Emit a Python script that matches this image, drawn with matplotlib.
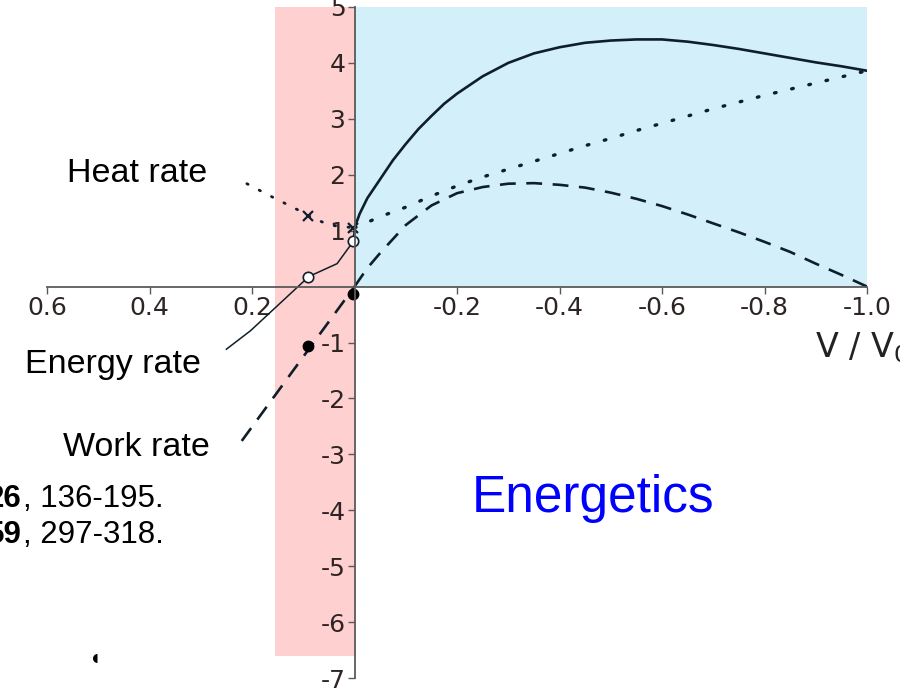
import matplotlib
matplotlib.use("Agg")
import matplotlib.pyplot as plt
import numpy as np

# values (V / V0 on x, rate on y)
v_energy = [0, -0.01, -0.025, -0.05, -0.075, -0.1, -0.125, -0.15, -0.175, -0.2, -0.25, -0.3,
            -0.35, -0.4, -0.45, -0.5, -0.55, -0.6, -0.65, -0.7, -0.75, -0.8, -0.85, -0.9,
            -0.95, -1.0]
energy_right = [1.05, 1.3, 1.58, 1.92, 2.26, 2.55, 2.82, 3.05, 3.27, 3.45, 3.76, 4.0,
                4.17, 4.28, 4.36, 4.40, 4.42, 4.42, 4.38, 4.32, 4.25, 4.17, 4.09, 4.01,
                3.94, 3.86]

v_right = [0, -0.025, -0.05, -0.1, -0.15, -0.2, -0.25, -0.3, -0.35, -0.4, -0.45, -0.5,
           -0.55, -0.6, -0.65, -0.7, -0.75, -0.8, -0.85, -0.9, -0.95, -1.0]
heat_right = [1.05, 1.15, 1.25, 1.42, 1.62, 1.8, 1.96, 2.1, 2.24, 2.38, 2.52, 2.65,
              2.79, 2.92, 3.05, 3.18, 3.30, 3.42, 3.53, 3.64, 3.75, 3.86]
work_right = [0, 0.33, 0.6, 1.1, 1.45, 1.67, 1.78, 1.84, 1.85, 1.82, 1.77, 1.68,
              1.57, 1.44, 1.29, 1.13, 0.97, 0.8, 0.62, 0.41, 0.21, 0]

v_heat_left = [0.21, 0.16, 0.11, 0.09, 0.05, 0.0]
heat_left = [1.84, 1.6, 1.37, 1.27, 1.1, 1.05]
v_energy_left = [0.25, 0.203, 0.089, 0.034, 0.003, 0.0]
energy_left = [-1.12, -0.79, 0.18, 0.41, 0.8, 1.05]
v_work_left = [0.22, 0.0]
work_left = [-2.76, 0.0]

v_pts = [0.09, 0.003]
heat_pts = [1.27, 1.05]
energy_pts = [0.18, 0.82]
work_pts = [-1.07, -0.14]

xticks = [0.6, 0.4, 0.2, -0.2, -0.4, -0.6, -0.8, -1.0]
xticklabels = ["0.6", "0.4", "0.2", "-0.2", "-0.4", "-0.6", "-0.8", "-1.0"]
yticks = [5, 4, 3, 2, 1, -1, -2, -3, -4, -5, -6, -7]

W, H = 900, 693
fig = plt.figure(figsize=(9, 6.93), dpi=100)
ax = fig.add_axes([47 / W, 15 / H, 820 / W, 671 / H])
ax.set_xlim(0.6, -1.0)
ax.set_ylim(-7, 5)
ax.patch.set_alpha(0)

# shaded regions
ax.fill_between([0, 0.156], -6.6, 5, color="#ffd0d0", lw=0, zorder=0)
ax.fill_between([0, -1.0], 0, 5, color="#d3eff9", lw=0, zorder=0)

lc = "#0f1f2a"
ax.plot(v_energy, energy_right, color=lc, lw=1.9, zorder=3)
ax.plot(v_right, heat_right, color=lc, lw=2.4, dashes=(0.5, 4.8),
        dash_capstyle="round", zorder=3)
ax.plot(v_right, work_right, color=lc, lw=1.9, dashes=(6, 4), zorder=3)

ax.plot(v_heat_left, heat_left, color=lc, lw=2.0, dashes=(0.5, 4.5),
        dash_capstyle="round", zorder=3)
ax.plot(v_energy_left, energy_left, color=lc, lw=1.1, zorder=3)
ax.plot(v_work_left, work_left, color=lc, lw=1.9, dashes=(6, 4), zorder=3)

ax.plot(v_pts, heat_pts, "x", color=lc, ms=7, mew=1.6, zorder=4)
ax.plot(v_pts, energy_pts, "o", mfc="white", mec=lc, ms=7.5, mew=1.2, zorder=4)
ax.plot(v_pts, work_pts, "o", color="black", ms=7.5, zorder=4)
ax.plot([0.503], [-6.64], "o", color="black", ms=6.5, fillstyle="left", mew=0)

# axes through the origin
for s in ["top", "right"]:
    ax.spines[s].set_visible(False)
ax.spines["left"].set_position(("data", 0))
ax.spines["bottom"].set_position(("data", 0))
for s in ["left", "bottom"]:
    ax.spines[s].set_color("#5a5a5a")
    ax.spines[s].set_linewidth(1.3)
    ax.spines[s].set_zorder(5)

ax.set_xticks(xticks)
ax.set_xticklabels(xticklabels)
ax.set_yticks(yticks)
ax.set_yticklabels([str(t) for t in yticks])
ax.tick_params(direction="out", length=5, width=1, color="#5a5a5a",
               labelsize=18, labelcolor="#2e2424")
ax.tick_params(axis="x", pad=1.5)
ax.tick_params(axis="y", pad=1.5)

fig.text(815 / W, 1 - 357 / H, "V / V$_0$", fontsize=24, color="#222222",
         ha="left", va="baseline")

sans = "Liberation Sans"
fig.text(67 / W, 1 - 182 / H, "Heat rate", fontsize=24.5, family=sans, va="baseline")
fig.text(25 / W, 1 - 373 / H, "Energy rate", fontsize=24.5, family=sans, va="baseline")
fig.text(63 / W, 1 - 456 / H, "Work rate", fontsize=24.5, family=sans, va="baseline")

fig.text(22 / W, 1 - 507 / H, "26", fontsize=22.5, family=sans, weight="bold",
         ha="right", va="baseline")
fig.text(23 / W, 1 - 507 / H, ", 136-195.", fontsize=22.5, family=sans, va="baseline")
fig.text(22 / W, 1 - 543 / H, "59", fontsize=22.5, family=sans, weight="bold",
         ha="right", va="baseline")
fig.text(23 / W, 1 - 543 / H, ", 297-318.", fontsize=22.5, family=sans, va="baseline")

fig.text(472 / W, 1 - 512 / H, "Energetics", fontsize=37, family=sans,
         color="#0000ff", va="baseline")

fig.savefig("out.png", dpi=100)
